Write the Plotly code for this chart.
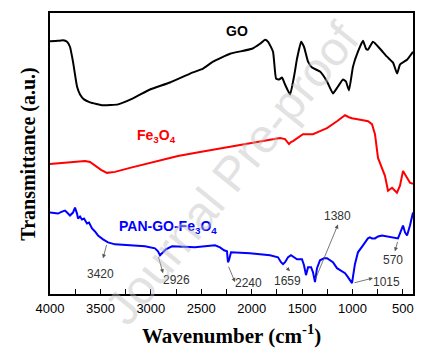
import plotly.graph_objects as go

# GO (black)
go_wn = [4000, 3921, 3871, 3831, 3802, 3772, 3732, 3702, 3663, 3603, 3474, 3325, 3177, 3008, 2810, 2611,
         2482, 2383, 2214, 1996, 1917, 1867, 1837, 1788, 1758, 1728, 1699, 1669, 1619, 1580, 1550, 1510,
         1481, 1441, 1401, 1322, 1253, 1194, 1144, 1094, 1065, 1035, 995, 946, 896, 866, 847, 797, 727,
         658, 598, 558, 529, 459, 400]
go_t = [254.5, 255, 255.5, 254, 249, 234, 209, 201, 196, 193, 190, 191, 197, 206, 213, 222,
        227, 234, 242, 247, 252, 256, 254, 244, 217, 216, 218, 211, 201, 219, 237, 254,
        249, 234, 228, 224, 214, 202, 209, 216, 214, 205, 229, 244, 255, 247, 246, 254, 247,
        239, 233, 222, 231, 236, 244]

# Fe3O4 (red)
fe_wn = [4000, 3851, 3653, 3603, 3554, 3494, 3435, 3355, 3207, 3058, 2909, 2731, 2512, 2235, 2146, 1917,
         1719, 1669, 1630, 1610, 1590, 1491, 1392, 1322, 1253, 1154, 1074, 1035, 1005, 896, 846, 807,
         777, 747, 707, 678, 648, 608, 559, 529, 499, 459, 430, 400]
fe_t = [131, 132, 134, 133, 129, 125, 122, 123, 127, 131, 135, 139, 143, 148, 150, 154,
        157, 156, 151, 153, 154, 161, 161, 164, 167, 174, 180, 178, 177, 175, 174, 171,
        161, 137, 127, 119, 104, 107, 102, 109, 124, 117, 112, 111]

# PAN-GO-Fe3O4 (blue)
pan_wn = [4000, 3950, 3921, 3881, 3851, 3831, 3802, 3772, 3752, 3732, 3722, 3702, 3683, 3663, 3633, 3613,
          3583, 3554, 3524, 3474, 3425, 3355, 3226, 3058, 2959, 2929, 2909, 2879, 2850, 2790, 2562, 2364,
          2314, 2274, 2245, 2235, 2225, 2205, 2017, 1818, 1739, 1709, 1689, 1669, 1639, 1610, 1580, 1550,
          1501, 1481, 1461, 1441, 1411, 1392, 1372, 1352, 1322, 1282, 1253, 1194, 1154, 1124, 1074, 1045,
          1005, 976, 946, 896, 847, 827, 807, 777, 747, 707, 598, 549, 529, 499, 479, 459, 430, 400]
pan_t = [82, 81, 81, 83, 84, 82, 79, 82, 87, 81, 76, 78, 75, 76, 71, 72,
         66, 63, 59, 55, 52, 50, 49, 48, 46, 43, 39, 42, 45, 48, 47, 49,
         47, 44, 43, 32, 34, 42, 41, 39, 37, 32, 30, 32, 37, 39, 37, 35,
         35, 29, 19, 27, 27, 22, 12, 26, 34, 36, 36, 32, 26, 24, 21, 17,
         11, 30, 42, 49, 56, 57, 56, 56, 58, 59, 57, 56, 61, 69, 62, 59, 69, 82]

# peak annotations: label, text pos, arrow tail, arrow head
peak_labels = ["3420", "2926", "2240", "1659", "1380", "1015", "570"]
peak_text_x = [3504, 2741, 2036, 1649, 1144, 658, 598]
peak_text_y = [20, 14, 11, 13, 79, 12, 34]
arrow_tail_x = [3435, 2929, 2235, 1669, 1372, 995, 549]
arrow_tail_y = [51, 39, 29, 28, 14, 11, 54]
arrow_head_x = [3474, 2879, 2165, 1619, 1144, 797, 579]
arrow_head_y = [36, 21, 12, 23, 70, 16, 43]

x_ticks = [4000, 3500, 3000, 2500, 2000, 1500, 1000, 500]

fig = go.Figure()
fig.add_trace(go.Scatter(x=go_wn, y=go_t, mode="lines", line=dict(color="black", width=2, shape="spline", smoothing=0.4), showlegend=False))
fig.add_trace(go.Scatter(x=fe_wn, y=fe_t, mode="lines", line=dict(color="#ff0000", width=2), showlegend=False))
fig.add_trace(go.Scatter(x=pan_wn, y=pan_t, mode="lines", line=dict(color="#0000ff", width=2), showlegend=False))

anns = []
for lab, tx, ty, ax_, ay_, hx, hy in zip(peak_labels, peak_text_x, peak_text_y, arrow_tail_x, arrow_tail_y, arrow_head_x, arrow_head_y):
    anns.append(dict(x=hx, y=hy, ax=ax_, ay=ay_, xref="x", yref="y", axref="x", ayref="y",
                     showarrow=True, arrowhead=2, arrowsize=1, arrowwidth=0.8, arrowcolor="#555555", text=""))
    anns.append(dict(x=tx, y=ty, xref="x", yref="y", text=lab, showarrow=False,
                     font=dict(family="Arial", size=12, color="#333333")))

anns.append(dict(x=2145, y=265, xref="x", yref="y", text="<b>GO</b>", showarrow=False,
                 font=dict(family="Arial", size=14, color="black")))
anns.append(dict(x=2939, y=159, xref="x", yref="y", text="<b>Fe<sub>3</sub>O<sub>4</sub></b>", showarrow=False,
                 font=dict(family="Arial", size=14, color="#ff0000")))
anns.append(dict(x=2830, y=67, xref="x", yref="y", text="<b>PAN-GO-Fe<sub>3</sub>O<sub>4</sub></b>", showarrow=False,
                 font=dict(family="Arial", size=14, color="#0000ff")))

anns.append(dict(x=0.5, y=-0.145, xref="paper", yref="paper", yanchor="middle", text="<b>Wavenumber (cm<sup>-1</sup>)</b>",
                 showarrow=False, font=dict(family="Liberation Serif", size=21, color="black")))
anns.append(dict(x=-0.06, y=0.5, xref="paper", yref="paper", xanchor="center", text="<b>Transmittance (a.u.)</b>",
                 textangle=-90, showarrow=False, font=dict(family="Liberation Serif", size=20, color="black")))

anns.append(dict(x=0.50, y=0.43, xref="paper", yref="paper", text="Journal Pre-proof", textangle=-51,
                 showarrow=False, font=dict(family="Arial", size=48, color="rgba(190,190,190,0.45)")))

fig.update_layout(
    width=440, height=350,
    margin=dict(l=50, r=27, t=11, b=56),
    paper_bgcolor="white", plot_bgcolor="white",
    annotations=anns,
    xaxis=dict(range=[4000, 400], tickvals=x_ticks, ticks="inside", ticklen=5, tickwidth=1.2, tickcolor="black",
               minor=dict(dtick=250, ticks="inside", ticklen=5, tickwidth=1.2, tickcolor="black", showgrid=False),
               showline=True, linecolor="black", linewidth=1.5, mirror=True, showgrid=False, zeroline=False,
               tickfont=dict(family="Arial", size=13, color="black"), ticklabelstandoff=2),
    yaxis=dict(range=[0, 283], showticklabels=False, ticks="", showline=True, linecolor="black", linewidth=1.5,
               mirror=True, showgrid=False, zeroline=False),
)
fig.update_xaxes(tickprefix="<b>", ticksuffix="</b>")

fig.write_html("out.html")
